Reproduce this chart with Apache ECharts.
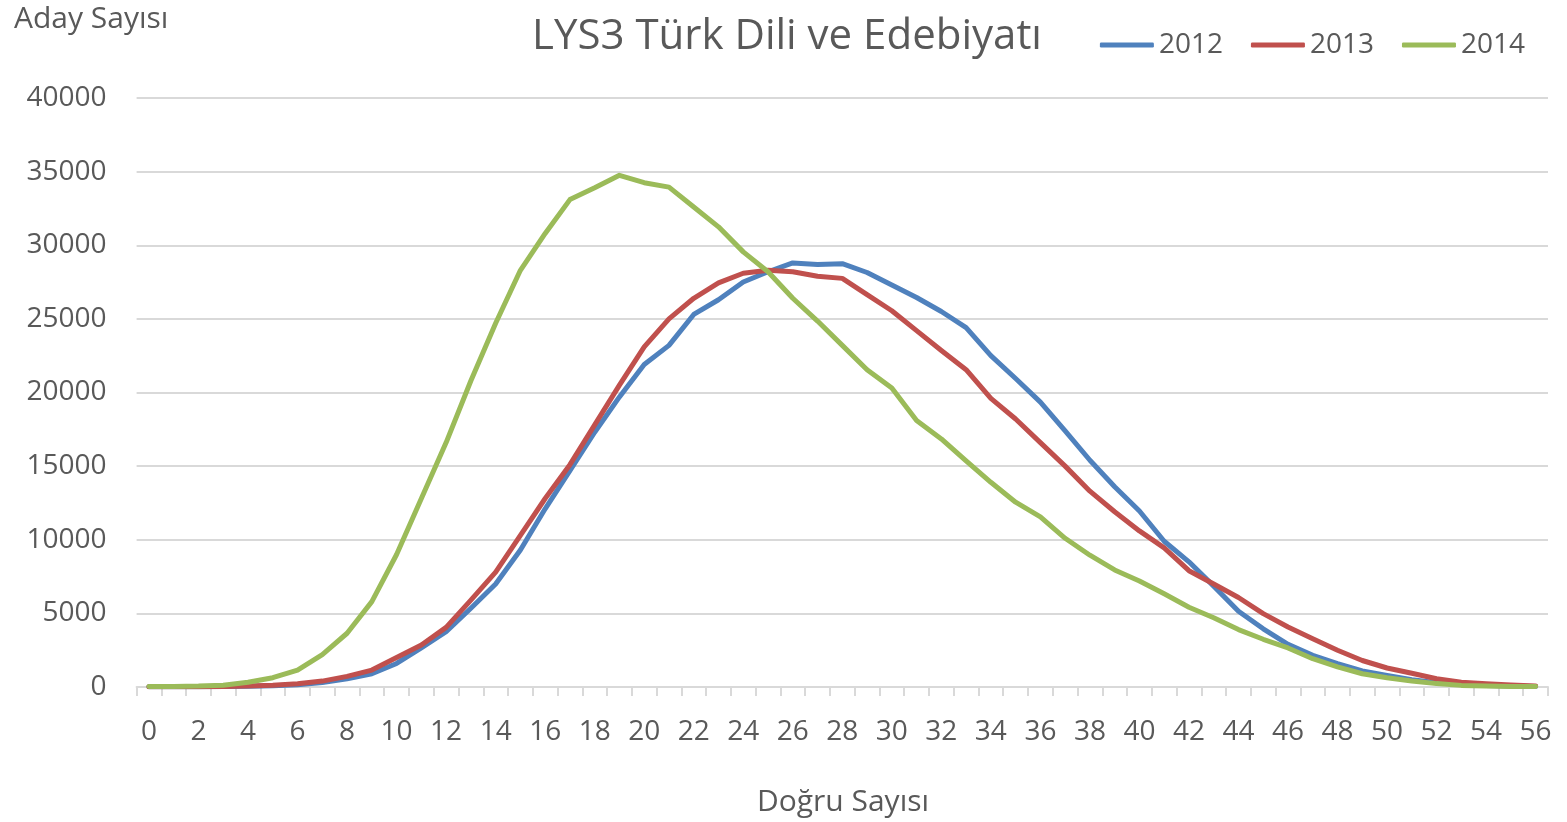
<!DOCTYPE html>
<html>
<head>
<meta charset="utf-8">
<script src="https://cdn.jsdelivr.net/npm/echarts@6/dist/echarts.min.js"></script>
<style>
  html, body { margin: 0; padding: 0; background: #fff; }
  #chart { width: 1567px; height: 822px; }
</style>
</head>
<body>
<div id="chart"></div>
<script>
// Doğru sayısı 0..56
const dogruSayisi = [];
for (let i = 0; i <= 56; i++) dogruSayisi.push(String(i));

const seriesNames = ["2012", "2013", "2014"];

const aday2012 = [10, 10, 20, 30, 50, 80, 150, 300, 550, 900,
  1600, 2650, 3750, 5350, 7000, 9300, 12100, 14700, 17300, 19700,
  21900, 23200, 25300, 26300, 27500, 28200, 28800, 28700, 28750, 28150,
  27300, 26450, 25500, 24400, 22500, 20950, 19350, 17400, 15400, 13600,
  11950, 9900, 8500, 6850, 5150, 3950, 2900, 2150, 1580, 1090,
  780, 500, 290, 180, 110, 70, 40];

const aday2013 = [10, 10, 20, 30, 60, 120, 220, 400, 720, 1150,
  2000, 2850, 4050, 5900, 7800, 10300, 12800, 15100, 17800, 20500,
  23100, 25000, 26400, 27450, 28100, 28300, 28200, 27900, 27750, 26650,
  25550, 24200, 22850, 21550, 19600, 18200, 16600, 15000, 13300, 11900,
  10600, 9450, 7900, 7000, 6080, 4980, 4070, 3280, 2500, 1800,
  1290, 930, 560, 330, 220, 130, 70];

const aday2014 = [30, 40, 60, 120, 320, 630, 1150, 2200, 3650, 5800,
  9000, 12800, 16600, 20800, 24700, 28300, 30800, 33100, 33900, 34750,
  34250, 33950, 32600, 31250, 29550, 28200, 26400, 24850, 23200, 21550,
  20300, 18100, 16850, 15350, 13900, 12550, 11550, 10100, 8950, 7950,
  7200, 6330, 5420, 4700, 3900, 3240, 2650, 1920, 1370, 900,
  630, 410, 230, 110, 70, 40, 30];

const renkler = ["#4F81BD", "#C0504D", "#9BBB59"];
const yazi = "#595959";
const font = "'Open Sans', sans-serif";

const chart = echarts.init(document.getElementById("chart"), null, { renderer: "canvas" });

function cizgi(name, data, color) {
  return {
    name: name,
    type: "line",
    data: data,
    symbol: "none",
    smooth: false,
    lineStyle: { width: 5, color: color, cap: "round", join: "round" },
    itemStyle: { color: color },
  };
}

const option = {
  animation: false,
  backgroundColor: "#fff",
  textStyle: { fontFamily: font },
  title: [
    {
      text: "LYS3 Türk Dili ve Edebiyatı",
      left: 782,
      top: 11,
      textAlign: "center",
      textStyle: { fontFamily: font, fontSize: 42, fontWeight: "normal", color: yazi },
    },
    {
      text: "Aday Sayısı",
      left: 9,
      top: -1,
      textStyle: { fontFamily: font, fontSize: 30, fontWeight: "normal", color: yazi },
    },
    {
      text: "Doğru Sayısı",
      left: 838,
      top: 782,
      textAlign: "center",
      textStyle: { fontFamily: font, fontSize: 30, fontWeight: "normal", color: yazi },
    },
  ],
  legend: {
    data: seriesNames,
    right: 37,
    top: 26,
    icon: "roundRect",
    itemWidth: 54,
    itemHeight: 5,
    itemGap: 28,
    textStyle: { fontFamily: font, fontSize: 28, color: yazi, padding: [0, 0, 0, 0] },
  },
  grid: {
    left: 136.6,
    right: 19,
    top: 98,
    bottom: 135,
    containLabel: false,
  },
  xAxis: {
    type: "category",
    data: dogruSayisi,
    boundaryGap: true,
    axisLine: { lineStyle: { color: "#D9D9D9", width: 2 } },
    axisTick: { show: true, interval: 0, length: 9, lineStyle: { color: "#D9D9D9", width: 2 } },
    axisLabel: { interval: 1, color: yazi, fontFamily: font, fontSize: 28, margin: 31 },
    splitLine: { show: false },
  },
  yAxis: {
    type: "value",
    min: 0,
    max: 40000,
    interval: 5000,
    axisLine: { show: false },
    axisTick: { show: false },
    axisLabel: {
      color: yazi,
      fontFamily: font,
      fontSize: 28,
      margin: 30,
      formatter: (v) => String(v),
    },
    splitLine: { lineStyle: { color: "#D9D9D9", width: 2 } },
  },
  series: [
    cizgi(seriesNames[0], aday2012, renkler[0]),
    cizgi(seriesNames[1], aday2013, renkler[1]),
    cizgi(seriesNames[2], aday2014, renkler[2]),
  ],
};

chart.setOption(option);
</script>
</body>
</html>
